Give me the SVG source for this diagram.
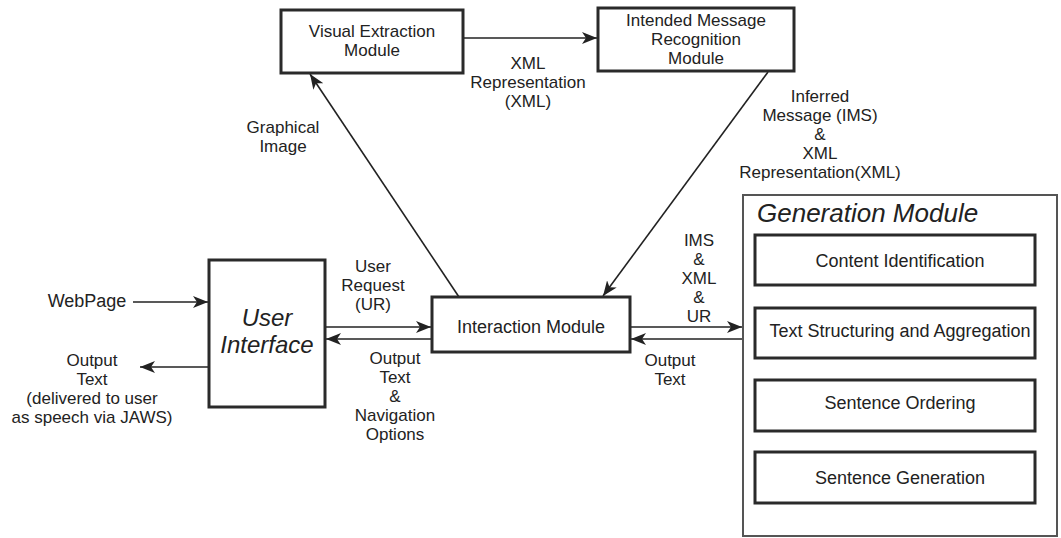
<svg xmlns="http://www.w3.org/2000/svg" width="1061" height="538" viewBox="0 0 1061 538">
  <defs>
    <style>
      .box { fill: #ffffff; stroke: #2a2a2a; stroke-width: 3; }
      .outer { fill: #ffffff; stroke: #555555; stroke-width: 2; }
      .lbl { font-family: "Liberation Sans", Arial, sans-serif; font-size: 17px; fill: #222222; text-anchor: middle; }
      .one { font-size: 18px; }
      .big { font-family: "Liberation Sans", Arial, sans-serif; font-size: 26px; font-style: italic; fill: #222222; }
      .ui { font-size: 24px; text-anchor: middle; }
      .conn { stroke: #222222; stroke-width: 1.6; fill: none; }
    </style>
    <marker id="arrow" markerUnits="userSpaceOnUse" markerWidth="16" markerHeight="12" refX="15" refY="6" orient="auto">
      <path d="M0,0 L15,6 L0,12 L4,6 z" fill="#222222"/>
    </marker>
    <marker id="arrowSmall" markerUnits="userSpaceOnUse" markerWidth="10" markerHeight="10" refX="10" refY="5" orient="auto">
      <path d="M0,0 L10,5 L0,10 L3,5 z" fill="#222222"/>
    </marker>
  </defs>

  <rect width="1061" height="538" fill="#ffffff"/>

  <!-- connectors -->
  <g id="connectors">
    <line class="conn" x1="463" y1="38" x2="597" y2="38" marker-end="url(#arrow)"/>
    <line class="conn" x1="459" y1="297" x2="310" y2="74" marker-end="url(#arrow)"/>
    <line class="conn" x1="768" y1="72" x2="603" y2="296" marker-end="url(#arrow)"/>
    <line class="conn" x1="133" y1="302" x2="208" y2="302" marker-end="url(#arrow)"/>
    <line class="conn" x1="209" y1="367" x2="140" y2="367" marker-end="url(#arrow)"/>
    <line class="conn" x1="325" y1="327" x2="431" y2="327" marker-end="url(#arrow)"/>
    <line class="conn" x1="432" y1="339" x2="326" y2="339" marker-end="url(#arrow)"/>
    <line class="conn" x1="630" y1="327" x2="742" y2="327" marker-end="url(#arrow)"/>
    <line class="conn" x1="743" y1="339" x2="631" y2="339" marker-end="url(#arrow)"/>
    <line class="conn" x1="902" y1="285" x2="902" y2="307" marker-end="url(#arrowSmall)"/>
    <line class="conn" x1="902" y1="358" x2="902" y2="379" marker-end="url(#arrowSmall)"/>
    <line class="conn" x1="902" y1="431" x2="902" y2="451" marker-end="url(#arrowSmall)"/>
  </g>

  <!-- connector labels -->
  <g id="labels">
    <text class="lbl" x="528" y="69">XML</text>
    <text class="lbl" x="528" y="88">Representation</text>
    <text class="lbl" x="528" y="107">(XML)</text>

    <text class="lbl" x="283" y="133">Graphical</text>
    <text class="lbl" x="283" y="152">Image</text>

    <text class="lbl" x="820" y="102">Inferred</text>
    <text class="lbl" x="820" y="121">Message (IMS)</text>
    <text class="lbl" x="820" y="140">&amp;</text>
    <text class="lbl" x="820" y="159">XML</text>
    <text class="lbl" x="820" y="178">Representation(XML)</text>

    <text class="lbl one" x="87" y="307">WebPage</text>

    <text class="lbl" x="92" y="366">Output</text>
    <text class="lbl" x="92" y="385">Text</text>
    <text class="lbl" x="92" y="404">(delivered to user</text>
    <text class="lbl" x="92" y="423">as speech via JAWS)</text>

    <text class="lbl" x="373" y="272">User</text>
    <text class="lbl" x="373" y="291">Request</text>
    <text class="lbl" x="373" y="310">(UR)</text>

    <text class="lbl" x="395" y="364">Output</text>
    <text class="lbl" x="395" y="383">Text</text>
    <text class="lbl" x="395" y="402">&amp;</text>
    <text class="lbl" x="395" y="421">Navigation</text>
    <text class="lbl" x="395" y="440">Options</text>

    <text class="lbl" x="699" y="246">IMS</text>
    <text class="lbl" x="699" y="265">&amp;</text>
    <text class="lbl" x="699" y="284">XML</text>
    <text class="lbl" x="699" y="303">&amp;</text>
    <text class="lbl" x="699" y="322">UR</text>

    <text class="lbl" x="670" y="366">Output</text>
    <text class="lbl" x="670" y="385">Text</text>
  </g>

  <!-- nodes -->
  <g id="visual-extraction">
    <rect class="box" x="281" y="10" width="182" height="63"/>
    <text class="lbl" x="372" y="37">Visual Extraction</text>
    <text class="lbl" x="372" y="56">Module</text>
  </g>

  <g id="intended-message">
    <rect class="box" x="598" y="8" width="196" height="63"/>
    <text class="lbl" x="696" y="26">Intended Message</text>
    <text class="lbl" x="696" y="45">Recognition</text>
    <text class="lbl" x="696" y="64">Module</text>
  </g>

  <g id="user-interface">
    <rect class="box" x="209" y="260" width="116" height="147"/>
    <text class="big ui" x="267" y="326">User</text>
    <text class="big ui" x="267" y="353">Interface</text>
  </g>

  <g id="interaction-module">
    <rect class="box" x="432" y="297" width="198" height="55"/>
    <text class="lbl one" x="531" y="333">Interaction Module</text>
  </g>

  <g id="generation-module">
    <rect class="outer" x="743" y="195" width="314" height="341"/>
    <text class="big" x="757" y="222">Generation Module</text>
  </g>

  <g id="content-identification">
    <rect class="box" x="755" y="235" width="280" height="50"/>
    <text class="lbl one" x="900" y="267">Content Identification</text>
  </g>

  <g id="text-structuring">
    <rect class="box" x="755" y="308" width="280" height="50"/>
    <text class="lbl one" x="900" y="337">Text Structuring and Aggregation</text>
  </g>

  <g id="sentence-ordering">
    <rect class="box" x="755" y="380" width="280" height="51"/>
    <text class="lbl one" x="900" y="409">Sentence Ordering</text>
  </g>

  <g id="sentence-generation">
    <rect class="box" x="755" y="452" width="280" height="51"/>
    <text class="lbl one" x="900" y="484">Sentence Generation</text>
  </g>
</svg>
